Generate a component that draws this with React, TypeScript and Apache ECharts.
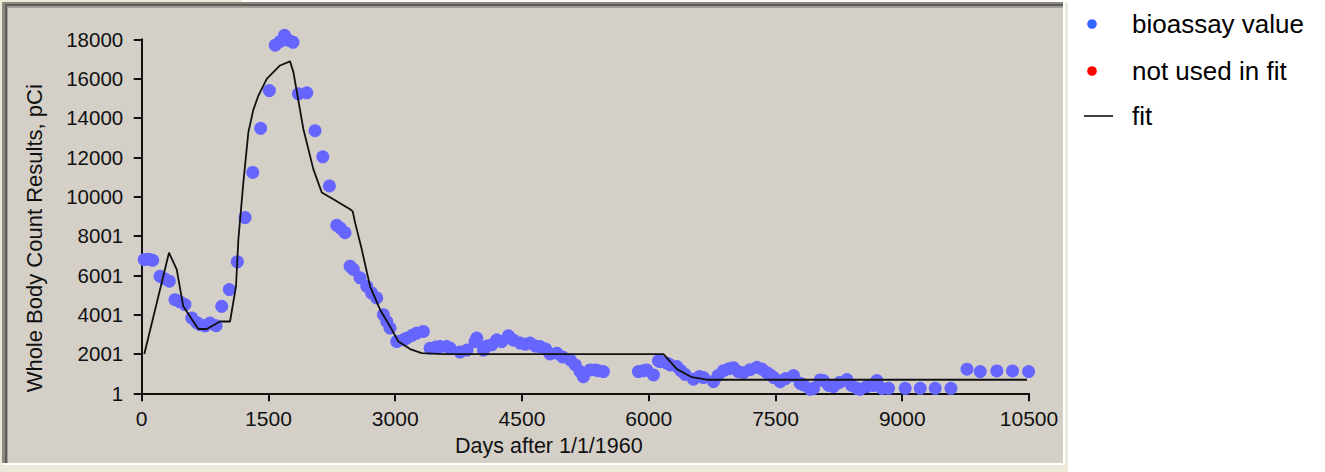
import React, { useEffect, useRef } from "react";
import * as echarts from "echarts";

const xTicks = [0, 1500, 3000, 4500, 6000, 7500, 9000, 10500];
const yTickLabels = ["1", "2001", "4001", "6001", "8001", "10000", "12000", "14000", "16000", "18000"];

const bioDays = [
  30, 80, 130, 217, 270, 327, 394, 450, 512, 592, 650, 690, 750, 808, 880,
  947, 1037, 1132, 1223, 1314, 1408, 1511, 1580, 1640, 1690, 1740, 1790,
  1854, 1953, 2051, 2143, 2221, 2308, 2350, 2406,
  2466, 2505, 2584, 2663, 2720, 2781, 2860, 2900, 2939, 3018, 3097, 3136, 3200, 3255, 3333,
  3413, 3480, 3531, 3610, 3649, 3768, 3850, 3945, 3965, 4044, 4084, 4143, 4202, 4261, 4340,
  4400, 4478, 4540, 4596, 4660, 4714, 4780, 4833, 4912, 4980, 5070, 5130, 5188, 5227, 5306,
  5366, 5405, 5464,
  5878, 5937, 5977, 6056, 6115, 6135, 6215, 6254, 6333, 6380, 6430, 6530, 6600, 6648, 6766,
  6820, 6885, 6950, 7003, 7060, 7121, 7200, 7280, 7340, 7398, 7437, 7480, 7556, 7620, 7713,
  7792, 7831, 7911, 7950, 8029, 8068, 8130, 8187, 8260, 8345, 8400, 8463, 8502, 8581, 8660,
  8700, 8760, 8838, 9035, 9213, 9390, 9576,
  9766, 9923, 10120, 10305, 10495,
];
const bioValues = [
  6800, 6820, 6760, 5950, 5820, 5700, 4760, 4650, 4510, 3830, 3600, 3490, 3430, 3570, 3435,
  4420, 5273, 6687, 8933, 11230, 13476, 15396, 17700, 17900, 18200, 17950, 17850,
  15227, 15280, 13354, 12027, 10546, 8540, 8400, 8167,
  6460, 6300, 5870, 5442, 5100, 4850, 3997, 3650, 3318, 2634, 2720, 2800, 2950, 3063, 3144,
  2297, 2350, 2379, 2379, 2300, 2100, 2200, 2634, 2808, 2200, 2400, 2466, 2720, 2634, 2925,
  2700, 2552, 2500, 2552, 2400, 2379, 2250, 2000, 2040, 1850, 1700, 1450, 1103, 847, 1189,
  1189, 1150, 1103,
  1103, 1150, 1189, 934, 1650, 1613, 1531, 1445, 1358, 1150, 960, 720, 850, 800, 600,
  900, 1150, 1250, 1300, 1100, 1050, 1200, 1320, 1230, 1050, 934, 800, 592, 750, 900,
  511, 424, 200, 255, 679, 650, 400, 341, 550, 700, 400, 255, 200, 341, 400,
  650, 250, 255, 255, 255, 255, 255,
  1225, 1103, 1138, 1138, 1103,
];

const notUsedDays: number[] = [];
const notUsedValues: number[] = [];

const fitDays = [
  31, 323, 414, 492, 670, 770, 927, 1045, 1116, 1144, 1203, 1262, 1320, 1381, 1480, 1637, 1755,
  1795, 1913, 2031, 2131, 2268, 2466, 2497, 2525, 2604, 2702, 2821, 2939, 3038, 3176, 3314,
  3570, 6174, 6333, 6510, 6688, 10476,
];
const fitValues = [
  2000, 7150, 6300, 4420, 3270, 3270, 3650, 3650, 5440, 7830, 10720, 13270, 14400, 15140, 15990, 16670, 16880,
  16330, 13440, 11400, 10210, 9870, 9360, 9250, 8680, 7320, 5440, 4250, 3400, 2630, 2250, 2040,
  1990, 1990, 1230, 820, 690, 690,
];

const FONT = "'Liberation Sans', Arial, Helvetica, sans-serif";

export default function App() {
  const ref = useRef<HTMLDivElement>(null);
  useEffect(() => {
    if (!ref.current) return;
    const chart = echarts.init(ref.current, undefined, { renderer: "svg" });
    const bio = bioDays.map((d, i) => [d, bioValues[i]]);
    const notUsed = notUsedDays.map((d, i) => [d, notUsedValues[i]]);
    const fit = fitDays.map((d, i) => [d, fitValues[i]]);
    const legendItems = [
      { label: "bioassay value", kind: "dot", color: "#3366ff", y: 24 },
      { label: "not used in fit", kind: "dot", color: "#ff0000", y: 71 },
      { label: "fit", kind: "line", color: "#000000", y: 116 },
    ];
    const graphics: any[] = [
      { type: "rect", z: -20, silent: true, shape: { x: 0, y: 0, width: 1068, height: 472 }, style: { fill: "#ece9d8" } },
      { type: "rect", z: -20, silent: true, shape: { x: 242, y: 0, width: 826, height: 2 }, style: { fill: "#ffffff" } },
      { type: "rect", z: -19, silent: true, shape: { x: 2, y: 2, width: 1063, height: 463 }, style: { fill: "#ffffff" } },
      { type: "rect", z: -18, silent: true, shape: { x: 2, y: 2, width: 1061, height: 461 }, style: { fill: "#8c8a80" } },
      { type: "rect", z: -17, silent: true, shape: { x: 5, y: 4, width: 1058, height: 459 }, style: { fill: "#5e5c56" } },
      { type: "rect", z: -16, silent: true, shape: { x: 7, y: 6, width: 1056, height: 457 }, style: { fill: "#a09e96" } },
      { type: "rect", z: -15, silent: true, shape: { x: 8, y: 8, width: 1055, height: 455 }, style: { fill: "#d4d0c8" } },
    ];
    legendItems.forEach((it) => {
      if (it.kind === "dot") {
        graphics.push({ type: "circle", z: 10, shape: { cx: 1092, cy: it.y, r: 4.8 }, style: { fill: it.color } });
      } else {
        graphics.push({ type: "line", z: 10, shape: { x1: 1084, y1: it.y, x2: 1113, y2: it.y }, style: { stroke: it.color, lineWidth: 1.5 } });
      }
      graphics.push({
        type: "text", z: 10, x: 1132, y: it.y,
        style: { text: it.label, font: `26px ${FONT}`, fill: "#000", textVerticalAlign: "middle", verticalAlign: "middle" },
      });
    });
    chart.setOption({
      animation: false,
      backgroundColor: "#ffffff",
      textStyle: { fontFamily: FONT },
      graphic: { elements: graphics },
      grid: { left: 141.7, top: 39.3, right: 296, bottom: 78.7, containLabel: false },
      xAxis: {
        type: "value", min: xTicks[0], max: xTicks[xTicks.length - 1], interval: 1500,
        name: "Days after 1/1/1960", nameLocation: "middle", nameGap: 42,
        nameTextStyle: { color: "#111", fontSize: 21.5, fontFamily: FONT, padding: [0, 73, 0, 0] },
        axisLine: { lineStyle: { color: "#111", width: 2 } },
        axisTick: { length: 8, lineStyle: { color: "#111", width: 2 } },
        axisLabel: { color: "#111", fontSize: 21, margin: 15, fontFamily: FONT, formatter: (v: number) => String(v) },
        splitLine: { show: false },
      },
      yAxis: {
        type: "value", min: 0, max: 18000, interval: 2000,
        name: "Whole Body Count Results, pCi", nameLocation: "middle", nameGap: 96,
        nameTextStyle: { color: "#111", fontSize: 22, fontFamily: FONT, padding: [0, 44, 0, 0] },
        axisLine: { show: true, lineStyle: { color: "#111", width: 2 } },
        axisTick: { show: true, length: 8, lineStyle: { color: "#111", width: 2 } },
        axisLabel: {
          color: "#111", fontSize: 20.5, margin: 18.5, fontFamily: FONT,
          formatter: (v: number) => yTickLabels[Math.round(v / 2000)] ?? "",
        },
        splitLine: { show: false },
      },
      series: [
        { name: "bioassay value", type: "scatter", data: bio, symbolSize: 13, clip: false, itemStyle: { color: "#6666ff", opacity: 1 }, z: 2 },
        { name: "not used in fit", type: "scatter", data: notUsed, symbolSize: 13, clip: false, itemStyle: { color: "#ff0000" }, z: 2 },
        { name: "fit", type: "line", data: fit, showSymbol: false, symbol: "none", clip: false, lineStyle: { color: "#111", width: 1.8 }, z: 3 },
      ],
    });
    return () => chart.dispose();
  }, []);
  return <div ref={ref} style={{ position: "fixed", left: 0, top: 0, width: 1325, height: 472 }} />;
}
